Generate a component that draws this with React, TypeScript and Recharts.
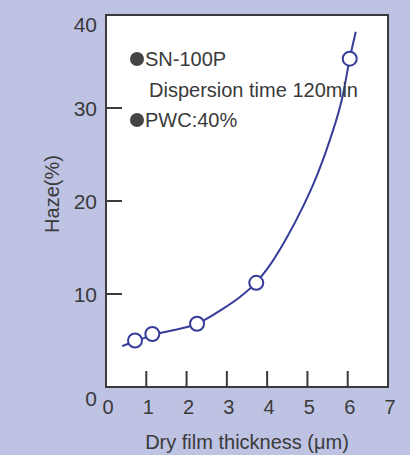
import { ComposedChart, Line, Scatter, XAxis, YAxis, ReferenceArea, Label } from 'recharts';

// fitted curve
const curveThickness = [0.4, 0.74, 1.17, 1.66, 2.26, 2.9, 3.3, 3.72, 4.02, 4.44, 4.89, 5.26, 5.56, 5.88, 6.05, 6.2];
const curveHaze = [4.4, 4.95, 5.6, 6.1, 6.8, 8.4, 9.6, 11.2, 12.8, 15.7, 19.4, 23.0, 26.6, 31.4, 35.3, 38.2];

// measured points (open circles)
const pointThickness = [0.72, 1.15, 2.26, 3.73, 6.05];
const pointHaze = [5.0, 5.7, 6.8, 11.2, 35.3];

const xTicks = [0, 1, 2, 3, 4, 5, 6, 7];
const yTicks = [0, 10, 20, 30, 40];

const curveData = curveThickness.map((x, i) => ({ x, haze: curveHaze[i] }));
const pointData = pointThickness.map((x, i) => ({ x, haze: pointHaze[i] }));

const INK = '#3a3a3a';
const BLUE = '#363d99';
const FONT = '"Liberation Sans", Arial, sans-serif';

const XTick = ({ x, y, payload }: any) => {
    const v = payload.value;
    return (
        <g>
            {v > 0 && v < 7 && <line x1={x} y1={y} x2={x} y2={y - 16} stroke={INK} strokeWidth={2} />}
            <text x={x + 2} y={y + 27} textAnchor="middle" fill={INK} fontSize={20} fontFamily={FONT}>{v}</text>
        </g>
    );
};

const YTick = ({ x, y, payload }: any) => {
    const v = payload.value;
    // the end labels sit a little lower than their ticks in the original
    const shift = v === 0 ? 11 : v === 40 ? 9 : 0;
    return (
        <g>
            {v > 0 && v < 40 && <line x1={x} y1={y} x2={x + 16} y2={y} stroke={INK} strokeWidth={2} />}
            <text x={x - 9} y={y + 8 + shift} textAnchor="end" fill={INK} fontSize={21} fontFamily={FONT}>{v}</text>
        </g>
    );
};

const OpenCircle = (props: any) => (
    <circle cx={props.cx} cy={props.cy} r={7} fill="#fff" stroke={BLUE} strokeWidth={2} />
);

const note = (top: number, left: number, text: string, bullet: boolean) => (
    <div style={{ position: 'absolute', top, left, display: 'flex', alignItems: 'center', fontFamily: FONT, fontSize: 20, lineHeight: '20px', color: INK }}>
        {bullet && <span style={{ width: 14, height: 14, borderRadius: 7, background: '#454545', display: 'inline-block', marginRight: 1 }} />}
        <span>{text}</span>
    </div>
);

export default function App() {
    return (
        <div style={{ position: 'absolute', top: 0, left: 0, width: 410, height: 455, background: '#bec2e3' }}>
            <ComposedChart width={410} height={455} margin={{ top: 15, right: 22, bottom: 8, left: 6 }}>
                <XAxis
                    type="number"
                    dataKey="x"
                    domain={[0, 7]}
                    ticks={xTicks}
                    allowDataOverflow
                    height={60}
                    axisLine={false}
                    tickLine={false}
                    tickSize={0}
                    tickMargin={0}
                    tick={<XTick />}
                    interval={0}
                >
                    <Label
                        content={({ viewBox }: any) => (
                            <text x={viewBox.x + viewBox.width / 2} y={viewBox.y + 62} textAnchor="middle" fill={INK} fontSize={20} fontFamily={FONT}>
                                Dry film thickness (μm)
                            </text>
                        )}
                    />
                </XAxis>
                <YAxis
                    type="number"
                    domain={[0, 40]}
                    ticks={yTicks}
                    width={100}
                    axisLine={false}
                    tickLine={false}
                    tickSize={0}
                    tickMargin={0}
                    tick={<YTick />}
                    interval={0}
                >
                    <Label
                        content={({ viewBox }: any) => {
                            const cx = viewBox.x + 46;
                            const cy = viewBox.y + viewBox.height / 2 - 7;
                            return (
                                <text x={cx} y={cy} transform={`rotate(-90 ${cx} ${cy})`} textAnchor="middle" dominantBaseline="central" fill={INK} fontSize={20} fontFamily={FONT}>
                                    Haze(%)
                                </text>
                            );
                        }}
                    />
                </YAxis>
                <ReferenceArea x1={0} x2={7} y1={0} y2={40} fill="#fff" fillOpacity={1} stroke={INK} strokeWidth={2} />
                <Line
                    data={curveData}
                    dataKey="haze"
                    type="monotone"
                    stroke={BLUE}
                    strokeWidth={2}
                    dot={false}
                    activeDot={false}
                    isAnimationActive={false}
                />
                <Scatter data={pointData} dataKey="haze" shape={<OpenCircle />} isAnimationActive={false} />
            </ComposedChart>
            {note(49, 130, 'SN-100P', true)}
            {note(80, 149, 'Dispersion time 120min', false)}
            {note(110, 130, 'PWC:40%', true)}
        </div>
    );
}
